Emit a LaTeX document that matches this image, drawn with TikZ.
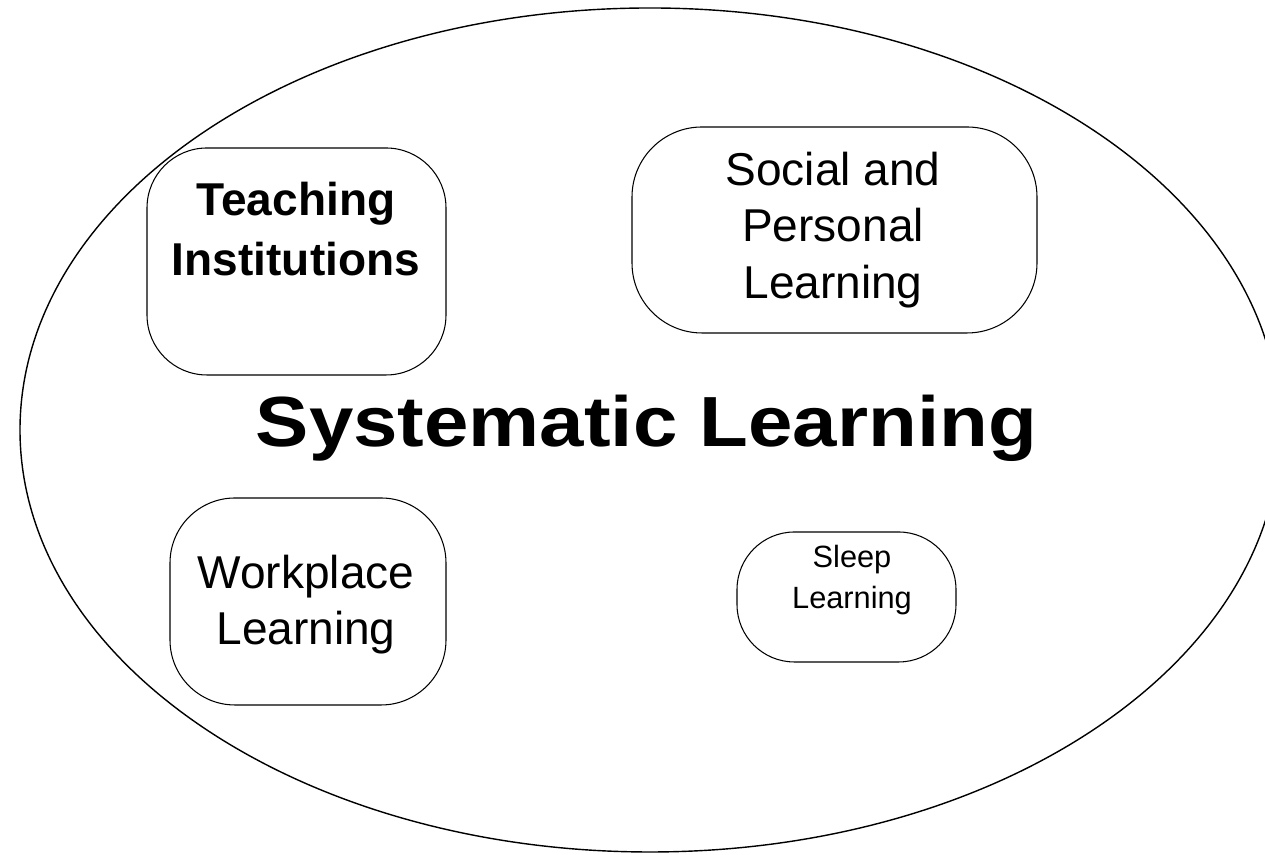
\documentclass[tikz,border=0pt]{standalone}
\usepackage{fontspec}
\setmainfont{Liberation Sans}

\begin{document}
\begin{tikzpicture}[
  area/.style={draw, rounded corners=#1, line width=0.6pt},
  txt/.style={anchor=north, inner sep=0pt, align=center}
]
\useasboundingbox (0,0) rectangle (25.3,17.1);

% Outer field
\draw[line width=0.8pt] (13.0,8.5) ellipse [x radius=12.6, y radius=8.44];

% Rounded boxes
\node[area=1.2cm, minimum width=5.98cm, minimum height=4.54cm] (teach) at (5.93,11.87) {};
\node[area=1.4cm, minimum width=8.1cm, minimum height=4.12cm] (social) at (16.69,12.5) {};
\node[area=1.3cm, minimum width=5.52cm, minimum height=4.14cm] (work) at (6.16,5.07) {};
\node[area=1.15cm, minimum width=4.38cm, minimum height=2.6cm] (sleep) at (16.93,5.16) {};

% Box texts
\node[txt, font=\bfseries\fontsize{26.2}{34}\selectfont] (teachtxt) at (5.92,13.46) {Teaching\\Institutions};
\node[txt, font=\fontsize{26.2}{32}\selectfont] (socialtxt) at (16.66,14.06) {Social and\\Personal\\Learning};
\node[txt, font=\fontsize{26.2}{31.5}\selectfont] (worktxt) at (6.12,6.0) {Workplace\\Learning};
\node[txt, font=\fontsize{17.5}{23.3}\selectfont] (sleeptxt) at (17.04,6.2) {Sleep\\Learning};

% Title
\node[anchor=base, inner sep=0pt, font=\bfseries\fontsize{40.4}{48}\selectfont] (title) at (12.93,8.16) {\scalebox{1.125}[1]{Systematic Learning}};

\end{tikzpicture}
\end{document}
